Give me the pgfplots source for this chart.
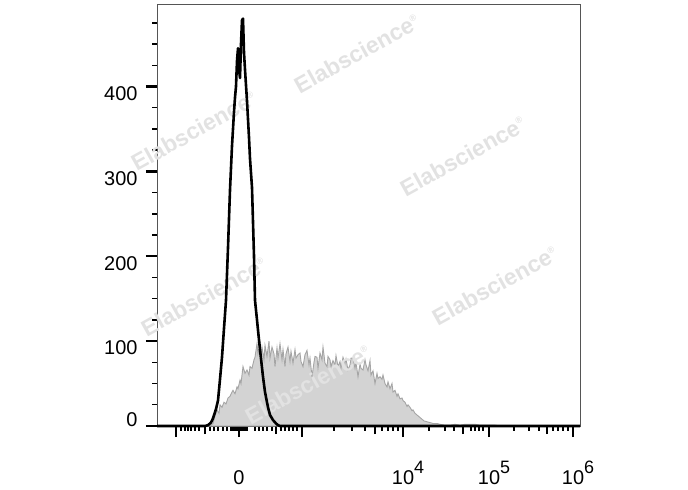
\documentclass[border=0pt]{standalone}
\usepackage{pgfplots}
\pgfplotsset{compat=1.18}
\usepackage{fontspec}
\setmainfont{Liberation Sans}

\definecolor{histfill}{RGB}{211,211,211}
\definecolor{histline}{RGB}{165,165,165}
\definecolor{frame}{RGB}{85,85,85}
\definecolor{wmark}{RGB}{226,226,226}

% x is kept in display units (biexponential scale, one unit = one pixel)
\pgfplotstableread{
x y
157 0
210 0
213 3
215 12
217 19
219 15
220 25
222 22
224 28
226 26
228 33
230 35
232 40
233 42
235 38
237 46
238 44
240 54
241 50
243 70
245 62
247 66
249 60
250 70
252 68
254 78
255 81
257 97
258 85
260 97
261 83
262 93
264 78
265 95
267 82
269 100
270 80
272 93
274 85
275 70
277 92
278 80
280 97
282 78
283 90
285 70
286 85
288 93
290 76
291 88
293 74
295 90
296 80
298 84
300 86
301 76
303 70
305 84
307 89
309 72
310 80
312 58
314 75
315 82
317 81
318 68
320 86
322 78
323 93
325 74
327 70
328 82
330 78
331 70
333 77
335 72
336 83
338 70
340 76
341 68
343 81
345 74
346 79
348 66
350 72
351 80
353 80
355 68
356 75
358 58
360 73
361 68
363 66
365 78
366 72
368 65
370 77
371 60
373 65
375 50
377 62
378 56
380 58
382 55
383 60
385 50
387 46
388 52
390 44
392 50
393 40
395 42
397 35
398 38
400 32
402 33
403 30
405 28
407 23
408 25
410 22
412 18
413 19
415 15
417 13
418 12
420 10
422 8
424 6
427 5
430 4
433 3
437 3
440 2
445 1
450 1
455 2
460 1
465 2
470 2
475 2
480 1
485 1
490 1
495 1
500 0
580 0
}\stained

\pgfplotstableread{
x y
157 0
205 0
208 1
211 4
213 9
216 20
218 30
220 55
222 81
224 115
226 148
228 210
230 278
232 330
234 370
235 387
236 400
237 430
238 445
239 420
240 410
241 450
242 478
243 480
244 440
245 420
247 383
249 340
250 315
252 281
254 200
255 148
257 125
258 113
260 90
263 58
265 40
268 22
270 13
273 7
276 3
278 1
280 0
580 0
}\control

\newcommand{\decade}[1]{10\rlap{\smash{\raisebox{11bp}{\fontsize{18}{18}\selectfont #1}}}}

\begin{document}
\begin{tikzpicture}
\useasboundingbox (-157bp,-64bp) rectangle (531bp,426bp);
\begin{axis}[
scale only axis,
width=423.5bp, height=421bp,
xmin=157, xmax=580.5,
ymin=0, ymax=496,
clip=false,
axis line style={frame, line width=1bp},
tick align=outside,
tick pos=left,
major tick length=11bp,
minor tick length=4.5bp,
every major tick/.append style={black, line width=2.4bp},
every minor tick/.append style={black, line width=1.4bp},
font=\fontsize{20}{20}\selectfont,
ytick={0,100,200,300,400},
yticklabels={\raisebox{26bp}{0},100,200,300,400},
minor ytick={25,50,75,125,150,175,225,250,275,325,350,375,425,450,475},
yticklabel style={xshift=-5bp, yshift=-7bp},
xtick={176,239,302,403,489,573},
xticklabels={,0,,\decade{4},\decade{5},\decade{6}},
xticklabel style={yshift=-30bp},
minor xtick={181,185,188,191,195,199,210,214,218,223,227,231,233,235,237,241,243,245,247,255,259,263,267,272,281,285,289,293,297,334,352,365,382,388,393,398,429,445,454,471,475,479,483,514,529,539,553,558,563,568},
extra x ticks={205,276,375,463,547},
extra x tick labels={},
extra x tick style={major tick length=8bp, every major tick/.append style={line width=2bp}},
]
\addplot [fill=histfill, draw=histline, line width=0.9bp] table {\stained} \closedcycle;
\node[wmark, rotate=29, font=\fontsize{23}{23}\selectfont\bfseries] at (axis cs:357,439) {Elabscience\textsuperscript{\fontsize{9}{9}\selectfont\textregistered}};
\node[wmark, rotate=29, font=\fontsize{23}{23}\selectfont\bfseries] at (axis cs:194,348) {Elabscience\textsuperscript{\fontsize{9}{9}\selectfont\textregistered}};
\node[wmark, rotate=29, font=\fontsize{23}{23}\selectfont\bfseries] at (axis cs:463,318) {Elabscience\textsuperscript{\fontsize{9}{9}\selectfont\textregistered}};
\node[wmark, rotate=29, font=\fontsize{23}{23}\selectfont\bfseries] at (axis cs:204,153) {Elabscience\textsuperscript{\fontsize{9}{9}\selectfont\textregistered}};
\node[wmark, rotate=29, font=\fontsize{23}{23}\selectfont\bfseries] at (axis cs:495,166) {Elabscience\textsuperscript{\fontsize{9}{9}\selectfont\textregistered}};
\node[wmark, rotate=29, font=\fontsize{23}{23}\selectfont\bfseries] at (axis cs:308,49) {Elabscience\textsuperscript{\fontsize{9}{9}\selectfont\textregistered}};
\addplot [black, line width=2.6bp, line join=round] table {\control};
\end{axis}
\end{tikzpicture}
\end{document}
